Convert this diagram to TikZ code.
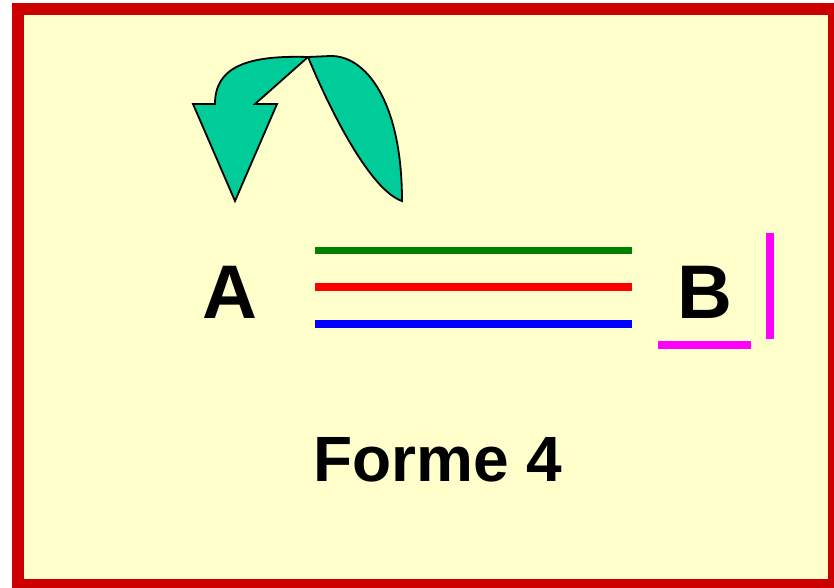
\documentclass[tikz,border=0pt]{standalone}
\usepackage{fontspec}
\setmainfont{Liberation Sans}
\definecolor{fond}{HTML}{FFFFCC}
\definecolor{cadre}{HTML}{CC0000}
\definecolor{fleche}{HTML}{00CC99}
\definecolor{vert}{HTML}{008000}
\definecolor{rose}{HTML}{FF00FF}
\tikzset{
    lettre/.style={inner sep=0pt,anchor=base,font=\fontsize{76}{80}\selectfont\bfseries},
    trait/.style={line width=7.5pt},
}
\begin{document}
\begin{tikzpicture}[x=1pt,y=-1pt]
    \useasboundingbox (0,0) rectangle (834,587);
    \draw[line width=12pt,cadre,fill=fond] (18,9) rectangle (834,585);
    % la fleche courbe
    \draw[line width=1.8pt,fill=fleche,line join=miter]
        (308,57) .. controls (245,55) and (215,68) .. (215,104)
        -- (193,104) -- (235,201) -- (277,104) -- (255,104) -- cycle;
    \draw[line width=1.8pt,fill=fleche]
        (308,57) -- (330,56) .. controls (365,55) and (402,100) .. (402,201)
        .. controls (370,190) and (330,110) .. (308,57) -- cycle;
    % les lettres
    \node[lettre] (A) at (230,318) {A};
    \node[lettre] (B) at (704.5,318) {B};
    \node[inner sep=0pt,anchor=base,font=\fontsize{64}{70}\selectfont\bfseries] (forme) at (438,481.7) {Forme 4};
    % les trois traits
    \draw[trait,vert] (315,250.5) -- (632,250.5);
    \draw[trait,red] (315,287) -- (632,287);
    \draw[trait,blue] (315,324) -- (632,324);
    % l'angle rose
    \draw[trait,rose] (658,345) -- (751,345);
    \draw[trait,rose] (770,233) -- (770,339);
\end{tikzpicture}
\end{document}
